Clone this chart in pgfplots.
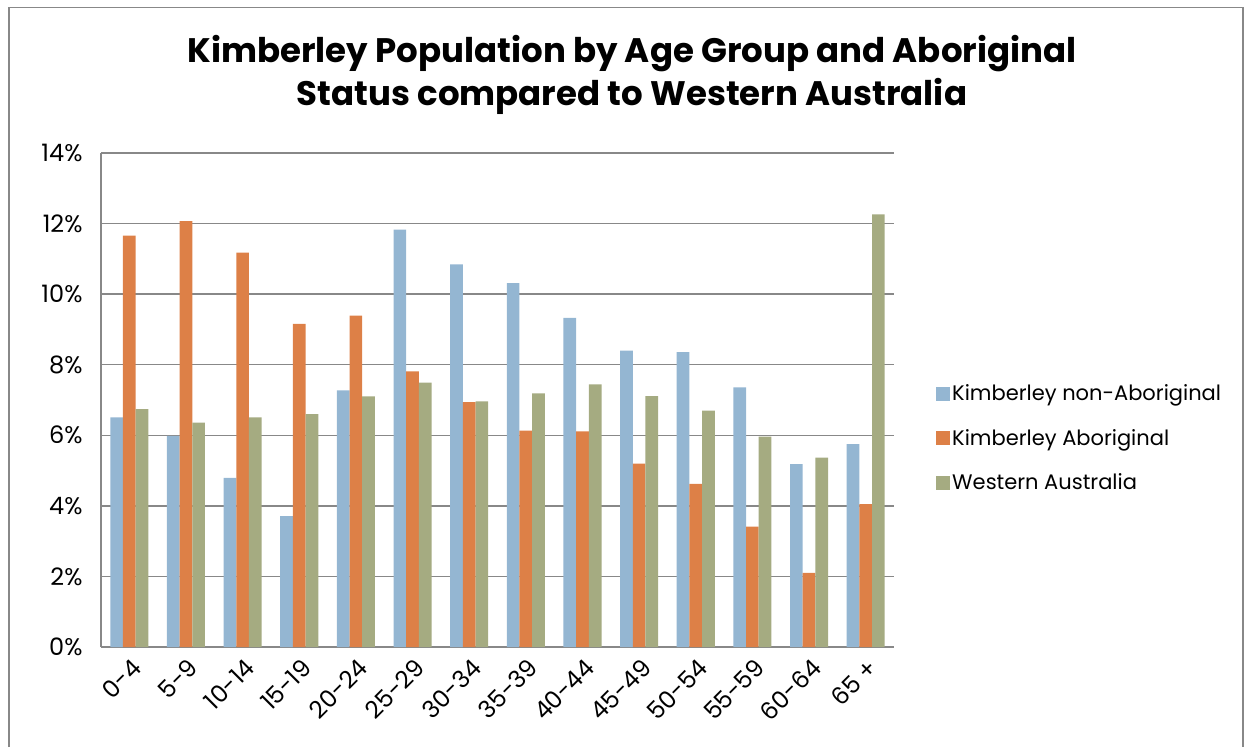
\documentclass[border=0pt]{standalone}
\usepackage{pgfplots}
\pgfplotsset{compat=1.18}
\usepackage{fontspec}
\setmainfont{Poppins}
\definecolor{cblue}{HTML}{94B6D2}
\definecolor{corange}{HTML}{DD8047}
\definecolor{cgreen}{HTML}{A5AB81}
\definecolor{cgrid}{HTML}{888888}
\begin{document}
\begin{tikzpicture}[x=1pt,y=1pt]
\useasboundingbox (0,0) rectangle (1246,747);
\draw[cgrid,line width=1.2pt] (9,0) -- (9,739.5) -- (1243,739.5) -- (1243,0);
\node[align=center,font=\fontsize{34}{43}\selectfont\bfseries,anchor=base] at (632,641) {Kimberley Population by Age Group and Aboriginal\\Status compared to Western Australia};
\begin{axis}[
  at={(101pt,100pt)}, anchor=south west,
  scale only axis, width=793pt, height=494pt,
  ymin=0, ymax=14, xmin=-0.5, xmax=13.5,
  axis x line*=bottom, axis y line*=left,
  axis line style={cgrid,line width=1.3pt},
  ytick={0,2,4,6,8,10,12,14},
  yticklabels={0\%,2\%,4\%,6\%,8\%,10\%,12\%,14\%},
  xtick={0,...,13},
  xticklabels={0-4,5-9,10-14,15-19,20-24,25-29,30-34,35-39,40-44,45-49,50-54,55-59,60-64,65 +},
  major tick length=0pt,
  ymajorgrids, grid style={cgrid,line width=1.3pt},
  tick label style={font=\fontsize{24}{26}\selectfont},
  yticklabel style={xshift=-15pt},
  xticklabel style={rotate=45,anchor=east,xshift=-3pt,yshift=-17pt},
  ybar=0pt, bar width=0.224,
  legend style={at={(1.053,0.423)},anchor=west,draw=none,fill=none,
    font=\fontsize{21}{24}\selectfont,row sep=23pt,inner sep=0pt},
  legend cell align=left,
  legend image code/.code={\fill[#1] (0pt,-7pt) rectangle (14pt,7pt);},
]
\addplot[fill=cblue,draw=none] coordinates {(0,6.51) (1,5.98) (2,4.79) (3,3.71) (4,7.27) (5,11.83) (6,10.84) (7,10.31) (8,9.33) (9,8.40) (10,8.36) (11,7.36) (12,5.18) (13,5.75)};
\addplot[fill=corange,draw=none] coordinates {(0,11.66) (1,12.07) (2,11.18) (3,9.16) (4,9.39) (5,7.81) (6,6.94) (7,6.13) (8,6.11) (9,5.20) (10,4.62) (11,3.41) (12,2.10) (13,4.05)};
\addplot[fill=cgreen,draw=none] coordinates {(0,6.74) (1,6.36) (2,6.51) (3,6.60) (4,7.10) (5,7.49) (6,6.96) (7,7.19) (8,7.44) (9,7.11) (10,6.70) (11,5.96) (12,5.37) (13,12.26)};
\legend{Kimberley non-Aboriginal,Kimberley Aboriginal,Western Australia}
\end{axis}
\end{tikzpicture}
\end{document}
